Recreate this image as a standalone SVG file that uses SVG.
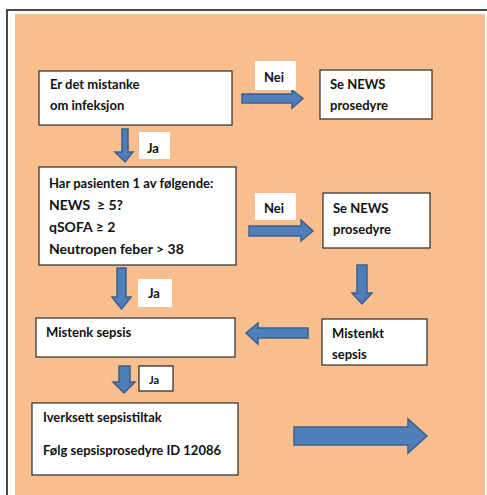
<svg xmlns="http://www.w3.org/2000/svg" width="487" height="495" viewBox="0 0 487 495">
<defs>
<style>
.bg{fill:#f9be8e}
.frame{fill:none;stroke:#4a4a4a;stroke-width:2}
.box{fill:#ffffff;stroke:#2b2b2b;stroke-width:1.2}
.lbl{fill:#ffffff}
.lblb{fill:#ffffff;stroke:#222;stroke-width:1.2}
.arr{fill:#4f7fbb;stroke:#3a5f8e;stroke-width:1.5;stroke-linejoin:miter}
text{font-family:Lato,"Liberation Sans",sans-serif;font-weight:bold;font-size:13px;fill:#111}
.big{font-size:14px}
</style>
</defs>
<rect x="0" y="0" width="487" height="495" fill="#ffffff"/>
<path class="frame" d="M7,495 V10 H487"/>
<rect class="bg" x="15" y="14" width="470" height="481"/>

<g id="connectors">
<polygon class="arr" points="122,129 128,129 128,152 133,152 125,162 115,152 122,152"/>
<polygon class="arr" points="242,94 292,94 292,90 303,98.5 292,108 292,103 242,103"/>
<polygon class="arr" points="249,226 301,226 301,220 313,231 301,241 301,236 249,236"/>
<polygon class="arr" points="357,265 367,265 367,293 372,293 362,304 352,293 357,293"/>
<polygon class="arr" points="117,268 126,268 126,297 131,297 121.5,309 112,297 117,297"/>
<polygon class="arr" points="308,328 258,328 258,323 246,333 258,344 258,338 308,338"/>
<polygon class="arr" points="119,366 130,366 130,382 135,382 124,393 113,382 119,382"/>
<polygon class="arr" points="294,427 408,427 408,419 427,436 408,453 408,445 294,445"/>
</g>

<g id="label-nei-1"><rect class="lbl" x="255" y="61" width="41" height="29"/><text x="264" y="82">Nei</text></g>
<g id="label-ja-1"><rect class="lbl" x="139" y="132" width="31" height="27"/><text x="147" y="153">Ja</text></g>
<g id="label-nei-2"><rect class="lbl" x="255" y="193" width="41" height="27"/><text x="264" y="213">Nei</text></g>
<g id="label-ja-2"><rect class="lbl" x="138" y="279" width="34" height="28"/><text x="148" y="298">Ja</text></g>
<g id="label-ja-3"><rect class="lblb" x="139" y="366" width="34" height="25"/><text x="149" y="384" style="font-size:11px">Ja</text></g>

<g id="node-infeksjon">
<rect class="box" x="39" y="71" width="193" height="54"/>
<text x="50" y="89">Er det mistanke</text>
<text x="50" y="110">om infeksjon</text>
</g>
<g id="node-news-1">
<rect class="box" x="320" y="70" width="112" height="49"/>
<text x="330" y="89">Se NEWS</text>
<text x="330" y="110">prosedyre</text>
</g>
<g id="node-kriterier">
<rect class="box" x="39" y="167" width="197" height="98"/>
<text x="49" y="188">Har pasienten 1 av følgende:</text>
<text class="big" x="49" y="210">NEWS&#160; ≥ 5?</text>
<text class="big" x="49" y="232">qSOFA ≥ 2</text>
<text class="big" x="49" y="254">Neutropen feber &gt; 38</text>
</g>
<g id="node-news-2">
<rect class="box" x="323" y="193" width="107" height="55"/>
<text x="333" y="213">Se NEWS</text>
<text x="333" y="234">prosedyre</text>
</g>
<g id="node-mistenk">
<rect class="box" x="36" y="318" width="199" height="39"/>
<text x="46" y="337">Mistenk sepsis</text>
</g>
<g id="node-mistenkt">
<rect class="box" x="322" y="319" width="105" height="46"/>
<text x="332" y="338">Mistenkt</text>
<text x="332" y="359">sepsis</text>
</g>
<g id="node-tiltak">
<rect class="box" x="32" y="403" width="206" height="72"/>
<text x="43" y="422">Iverksett sepsistiltak</text>
<text x="43" y="455">Følg sepsisprosedyre ID 12086</text>
</g>
</svg>
